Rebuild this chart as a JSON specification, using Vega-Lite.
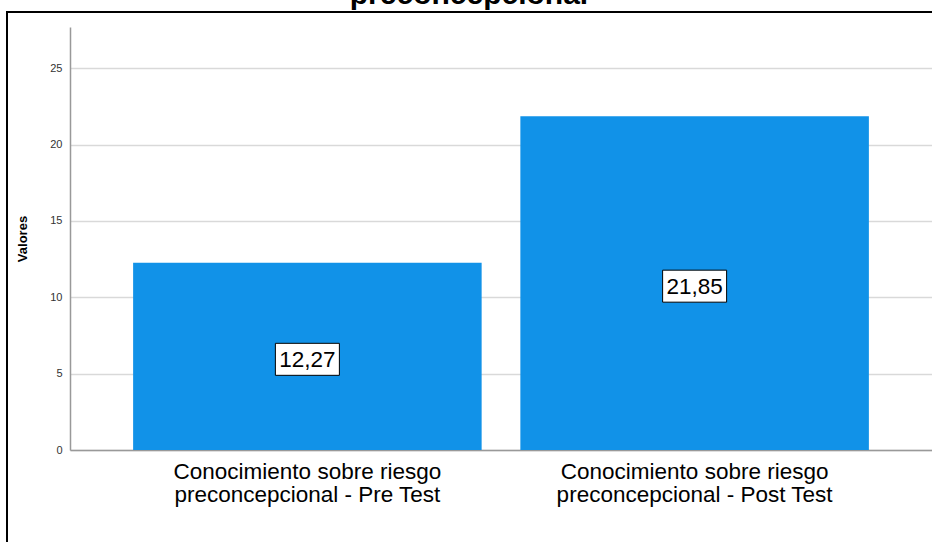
{
  "$schema": "https://vega.github.io/schema/vega-lite/v6.json",
  "autosize": {"type": "none"},
  "padding": {"left": 7, "top": 12, "right": -15, "bottom": -10},
  "width": 940,
  "height": 540,
  "background": "white",
  "config": {
    "font": "Liberation Sans",
    "view": {"stroke": "black", "strokeWidth": 2}
  },
  "title": {
    "text": "preconcepcional",
    "fontSize": 30,
    "fontWeight": "bold",
    "color": "black",
    "font": "Liberation Sans",
    "baseline": "alphabetic",
    "offset": 0,
    "dx": -8,
    "dy": 22
  },
  "data": {
    "values": [
      {"prueba": "Conocimiento sobre riesgo preconcepcional - Pre Test", "valor": 12.27, "etiqueta": "12,27"},
      {"prueba": "Conocimiento sobre riesgo preconcepcional - Post Test", "valor": 21.85, "etiqueta": "21,85"}
    ]
  },
  "encoding": {
    "x": {
      "field": "prueba",
      "type": "nominal",
      "sort": null,
      "scale": {"range": [63, 925], "paddingInner": 0.1, "paddingOuter": 0.163},
      "axis": {
        "title": null,
        "orient": "bottom",
        "offset": -102,
        "labelAngle": 0,
        "labelFontSize": 22.5,
        "labelColor": "black",
        "labelLimit": 0,
        "labelPadding": 10,
        "labelLineHeight": 23,
        "labelExpr": "[slice(datum.value, 0, 25), slice(datum.value, 26)]",
        "ticks": false,
        "domainColor": "#999999",
        "domainWidth": 1.5,
        "grid": false
      }
    }
  },
  "layer": [
    {
      "mark": {"type": "bar", "color": "#1192e8"},
      "encoding": {
        "y": {
          "field": "valor",
          "type": "quantitative",
          "scale": {"domain": [0, 27.7], "range": [438, 15], "nice": false, "zero": true},
          "axis": {
            "title": "Valores",
            "titleFontSize": 13,
            "titleFontWeight": "bold",
            "titleColor": "black",
            "titlePadding": 20,
            "offset": -63,
            "values": [0, 5, 10, 15, 20, 25],
            "ticks": false,
            "labelPadding": 8,
            "labelFontSize": 11,
            "labelColor": "#333333",
            "domainColor": "#999999",
            "domainWidth": 1.5,
            "grid": true,
            "gridColor": "#d9d9d9",
            "gridWidth": 1.5
          }
        }
      }
    },
    {
      "transform": [{"calculate": "datum.valor / 2", "as": "mitad"}],
      "mark": {
        "type": "point",
        "shape": "M-1,-0.5H1V0.5H-1Z",
        "size": 4096,
        "filled": true,
        "fill": "white",
        "stroke": "black",
        "strokeWidth": 1,
        "opacity": 1,
        "yOffset": 3
      },
      "encoding": {
        "y": {"field": "mitad", "type": "quantitative"}
      }
    },
    {
      "transform": [{"calculate": "datum.valor / 2", "as": "mitad"}],
      "mark": {
        "type": "text",
        "fontSize": 22.5,
        "color": "black",
        "align": "center",
        "baseline": "middle",
        "yOffset": 4
      },
      "encoding": {
        "y": {"field": "mitad", "type": "quantitative"},
        "text": {"field": "etiqueta"}
      }
    }
  ]
}
